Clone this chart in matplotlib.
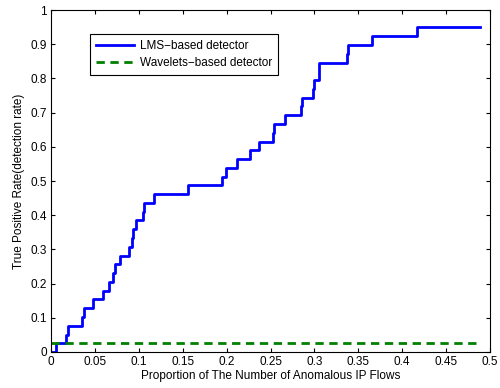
import matplotlib
matplotlib.use('Agg')
import matplotlib.pyplot as plt

plt.rcParams['font.family'] = ['Liberation Sans', 'DejaVu Sans']

# LMS-based detector: step positions and the level reached at each step
lms_x = [0.0, 0.0057, 0.0167, 0.019, 0.035, 0.0376, 0.0475, 0.0589, 0.0664,
         0.0703, 0.0729, 0.079, 0.0892, 0.0923, 0.0937, 0.0968, 0.1051, 0.1057,
         0.1177, 0.1564, 0.1944, 0.1993, 0.2122, 0.2267, 0.2369, 0.2523, 0.254,
         0.2665, 0.2842, 0.2855, 0.298, 0.2995, 0.3047, 0.3058, 0.3371, 0.3379,
         0.366, 0.4165, 0.489]
lms_y = [0.0, 0.025, 0.05, 0.076, 0.103, 0.128, 0.154, 0.179, 0.205,
         0.23, 0.256, 0.282, 0.307, 0.333, 0.359, 0.385, 0.41, 0.436,
         0.462, 0.487, 0.513, 0.538, 0.564, 0.59, 0.615, 0.641, 0.667,
         0.692, 0.718, 0.744, 0.769, 0.795, 0.821, 0.846, 0.872, 0.897,
         0.923, 0.949, 0.949]

# Wavelets-based detector
wav_x = [0.0, 0.489]
wav_y = [0.027, 0.027]

xticks = [0, 0.05, 0.1, 0.15, 0.2, 0.25, 0.3, 0.35, 0.4, 0.45, 0.5]
xtick_labels = ['0', '0.05', '0.1', '0.15', '0.2', '0.25', '0.3', '0.35', '0.4', '0.45', '0.5']
yticks = [0, 0.1, 0.2, 0.3, 0.4, 0.5, 0.6, 0.7, 0.8, 0.9, 1]
ytick_labels = ['0', '0.1', '0.2', '0.3', '0.4', '0.5', '0.6', '0.7', '0.8', '0.9', '1']

fig = plt.figure(figsize=(5, 3.88), dpi=100)
ax = fig.add_axes([0.102, 0.0928, 0.878, 0.8814])

ax.step(lms_x, lms_y, where='post', color='blue', linewidth=2,
        label='LMS\u2212based detector')
ax.plot(wav_x, wav_y, color='green', linestyle=(0, (3, 2)), linewidth=2,
        label='Wavelets\u2212based detector')

ax.set_xlim(0, 0.5)
ax.set_ylim(0, 1)
ax.set_xticks(xticks)
ax.set_xticklabels(xtick_labels)
ax.set_yticks(yticks)
ax.set_yticklabels(ytick_labels)
ax.tick_params(direction='in', top=True, right=True, labelsize=8.5, length=3, pad=3)

ax.set_xlabel('Proportion of The Number of Anomalous IP Flows', fontsize=8.5, labelpad=1)
ax.set_ylabel('True Positive Rate(detection rate)', fontsize=8.5, labelpad=4)

leg = ax.legend(loc='upper left', bbox_to_anchor=(0.089, 0.93), borderaxespad=0,
                fontsize=8.5, fancybox=False, edgecolor='black', framealpha=1,
                handlelength=3.2, borderpad=0.5, labelspacing=0.45, handletextpad=0.5)
leg.get_frame().set_linewidth(0.8)

plt.savefig('out.png', dpi=100)
